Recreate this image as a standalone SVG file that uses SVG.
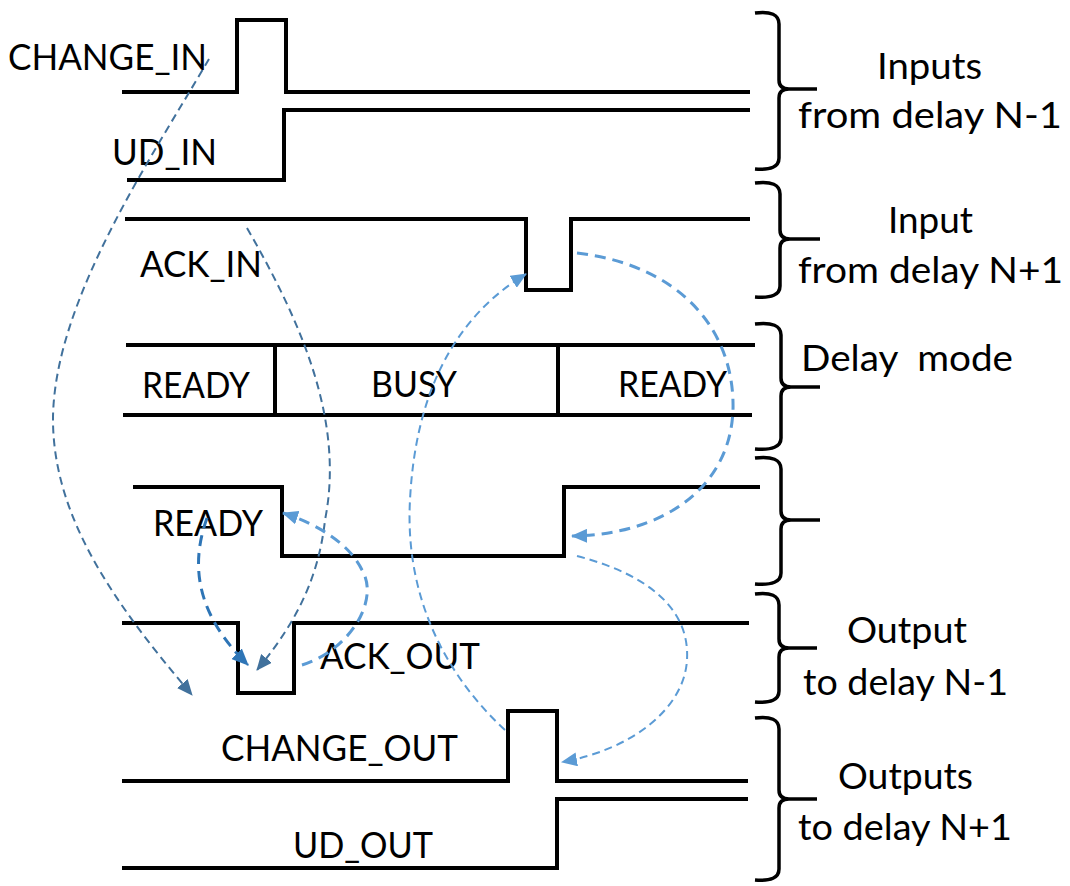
<svg xmlns="http://www.w3.org/2000/svg" width="1070" height="886" viewBox="0 0 1070 886">
<style>
.w{fill:none;stroke:#000;stroke-width:4;stroke-linejoin:miter}
.br{fill:none;stroke:#000;stroke-width:3.5;stroke-linecap:butt}
.t{font-family:Lato,"Open Sans","Liberation Sans",sans-serif;font-size:36px;fill:#000}
.a{fill:none}
.thin{stroke-width:2;stroke-dasharray:8 5}
.thick{stroke-width:3;stroke-dasharray:11 7}
.dk{stroke:#41719C}
.md{stroke:#2E75B6}
.lt{stroke:#5B9BD5}
</style>
<defs>
<marker id="mdk" viewBox="0 0 16 14" refX="15" refY="7" markerWidth="16" markerHeight="14" markerUnits="userSpaceOnUse" orient="auto"><path d="M0,0 L16,7 L0,14 z" fill="#41719C"/></marker>
<marker id="mmd" viewBox="0 0 16 14" refX="15" refY="7" markerWidth="17" markerHeight="15" markerUnits="userSpaceOnUse" orient="auto"><path d="M0,0 L16,7 L0,14 z" fill="#2E75B6"/></marker>
<marker id="mlt" viewBox="0 0 16 14" refX="15" refY="7" markerWidth="16" markerHeight="14" markerUnits="userSpaceOnUse" orient="auto"><path d="M0,0 L16,7 L0,14 z" fill="#5B9BD5"/></marker>
</defs>
<rect width="1070" height="886" fill="#fff"/>

<g id="change_in">
<path class="w" d="M122,92 H237 V20 H286 V92 H750"/>
<text class="t" x="8" y="70" textLength="199" lengthAdjust="spacingAndGlyphs">CHANGE_IN</text>
</g>
<g id="ud_in">
<path class="w" d="M127,180 H284 V110 H750"/>
<text class="t" x="112" y="165" textLength="105" lengthAdjust="spacingAndGlyphs">UD_IN</text>
</g>
<g id="ack_in">
<path class="w" d="M125,219 H526 V290 H571 V219 H750"/>
<text class="t" x="140" y="277" textLength="122" lengthAdjust="spacingAndGlyphs">ACK_IN</text>
</g>
<g id="delay_mode_row">
<path class="w" d="M126,345 H755 M123,415 H752 M275,345 V415 M558,345 V415"/>
<text class="t" x="142" y="398" textLength="108" lengthAdjust="spacingAndGlyphs">READY</text>
<text class="t" x="371" y="397" textLength="86" lengthAdjust="spacingAndGlyphs">BUSY</text>
<text class="t" x="618" y="397" textLength="109" lengthAdjust="spacingAndGlyphs">READY</text>
</g>
<g id="ready">
<path class="w" d="M133,487 H282 V556 H564 V487 H760"/>
<text class="t" x="153" y="536" textLength="110" lengthAdjust="spacingAndGlyphs">READY</text>
</g>
<g id="ack_out">
<path class="w" d="M122,623 H238 V693 H294 V623 H749"/>
<text class="t" x="320" y="669" textLength="160" lengthAdjust="spacingAndGlyphs">ACK_OUT</text>
</g>
<g id="change_out">
<path class="w" d="M122,781 H508 V711 H557 V781 H748"/>
<text class="t" x="221" y="761" textLength="237" lengthAdjust="spacingAndGlyphs">CHANGE_OUT</text>
</g>
<g id="ud_out">
<path class="w" d="M122,868 H557 V799 H748"/>
<text class="t" x="293" y="858" textLength="140" lengthAdjust="spacingAndGlyphs">UD_OUT</text>
</g>

<g id="group_inputs_n-1">
<path class="br" d="M755,13 Q779,10 779,24 V80 Q779,89 789,89 H817 M789,89 Q779,89 779,98 V158 Q779,171 755,169"/>
<text class="t" x="877" y="79" textLength="105" lengthAdjust="spacingAndGlyphs">Inputs</text>
<text class="t" x="798" y="128" textLength="264" lengthAdjust="spacingAndGlyphs">from delay N-1</text>
</g>
<g id="group_input_n+1">
<path class="br" d="M755,183 Q780,180 780,194 V230 Q780,239 790,239 H820 M790,239 Q780,239 780,248 V286 Q780,299 755,297"/>
<text class="t" x="888" y="233" textLength="85" lengthAdjust="spacingAndGlyphs">Input</text>
<text class="t" x="798" y="283" textLength="265" lengthAdjust="spacingAndGlyphs">from delay N+1</text>
</g>
<g id="group_delay_mode">
<path class="br" d="M755,324 Q781,321 781,335 V378 Q781,387 791,387 H820 M791,387 Q781,387 781,396 V438 Q781,451 755,449"/>
<text class="t" x="801" y="371" textLength="212" lengthAdjust="spacingAndGlyphs" xml:space="preserve">Delay  mode</text>
</g>
<g id="group_ready">
<path class="br" d="M755,458 Q781,455 781,469 V511 Q781,520 791,520 H820 M791,520 Q781,520 781,529 V573 Q781,586 755,584"/>
</g>
<g id="group_output_n-1">
<path class="br" d="M755,594 Q779,591 779,605 V639 Q779,648 789,648 H817 M789,648 Q779,648 779,657 V691 Q779,704 755,702"/>
<text class="t" x="847" y="643" textLength="120" lengthAdjust="spacingAndGlyphs">Output</text>
<text class="t" x="803" y="695" textLength="205" lengthAdjust="spacingAndGlyphs">to delay N-1</text>
</g>
<g id="group_outputs_n+1">
<path class="br" d="M755,718 Q779,715 779,729 V790 Q779,799 789,799 H817 M789,799 Q779,799 779,808 V869 Q779,882 755,880"/>
<text class="t" x="838" y="789" textLength="135" lengthAdjust="spacingAndGlyphs">Outputs</text>
<text class="t" x="798" y="840" textLength="214" lengthAdjust="spacingAndGlyphs">to delay N+1</text>
</g>

<g id="connectors">
<path class="a thin dk" marker-end="url(#mdk)" d="M209,59 C150,160 55,300 53,417 C52,520 120,610 192,695"/>
<path class="a thin dk" marker-end="url(#mdk)" d="M247,228 C300,320 345,420 325,520 C318,585 290,630 257,670"/>
<path class="a thick md" marker-end="url(#mmd)" d="M207,518 C192,560 192,610 248,665"/>
<path class="a thick lt" marker-end="url(#mlt)" d="M302,665 C350,650 380,600 362,570 C350,545 320,525 283,513"/>
<path class="a thin lt" marker-end="url(#mlt)" d="M505,730 C440,670 405,590 410,500 C415,400 450,320 526,274"/>
<path class="a thick lt" marker-end="url(#mlt)" d="M577,253 C680,265 735,330 733,410 C730,490 660,535 572,536"/>
<path class="a thin lt" marker-end="url(#mlt)" d="M577,556 C650,575 690,610 687,660 C684,710 630,750 562,762"/>
</g>
</svg>
